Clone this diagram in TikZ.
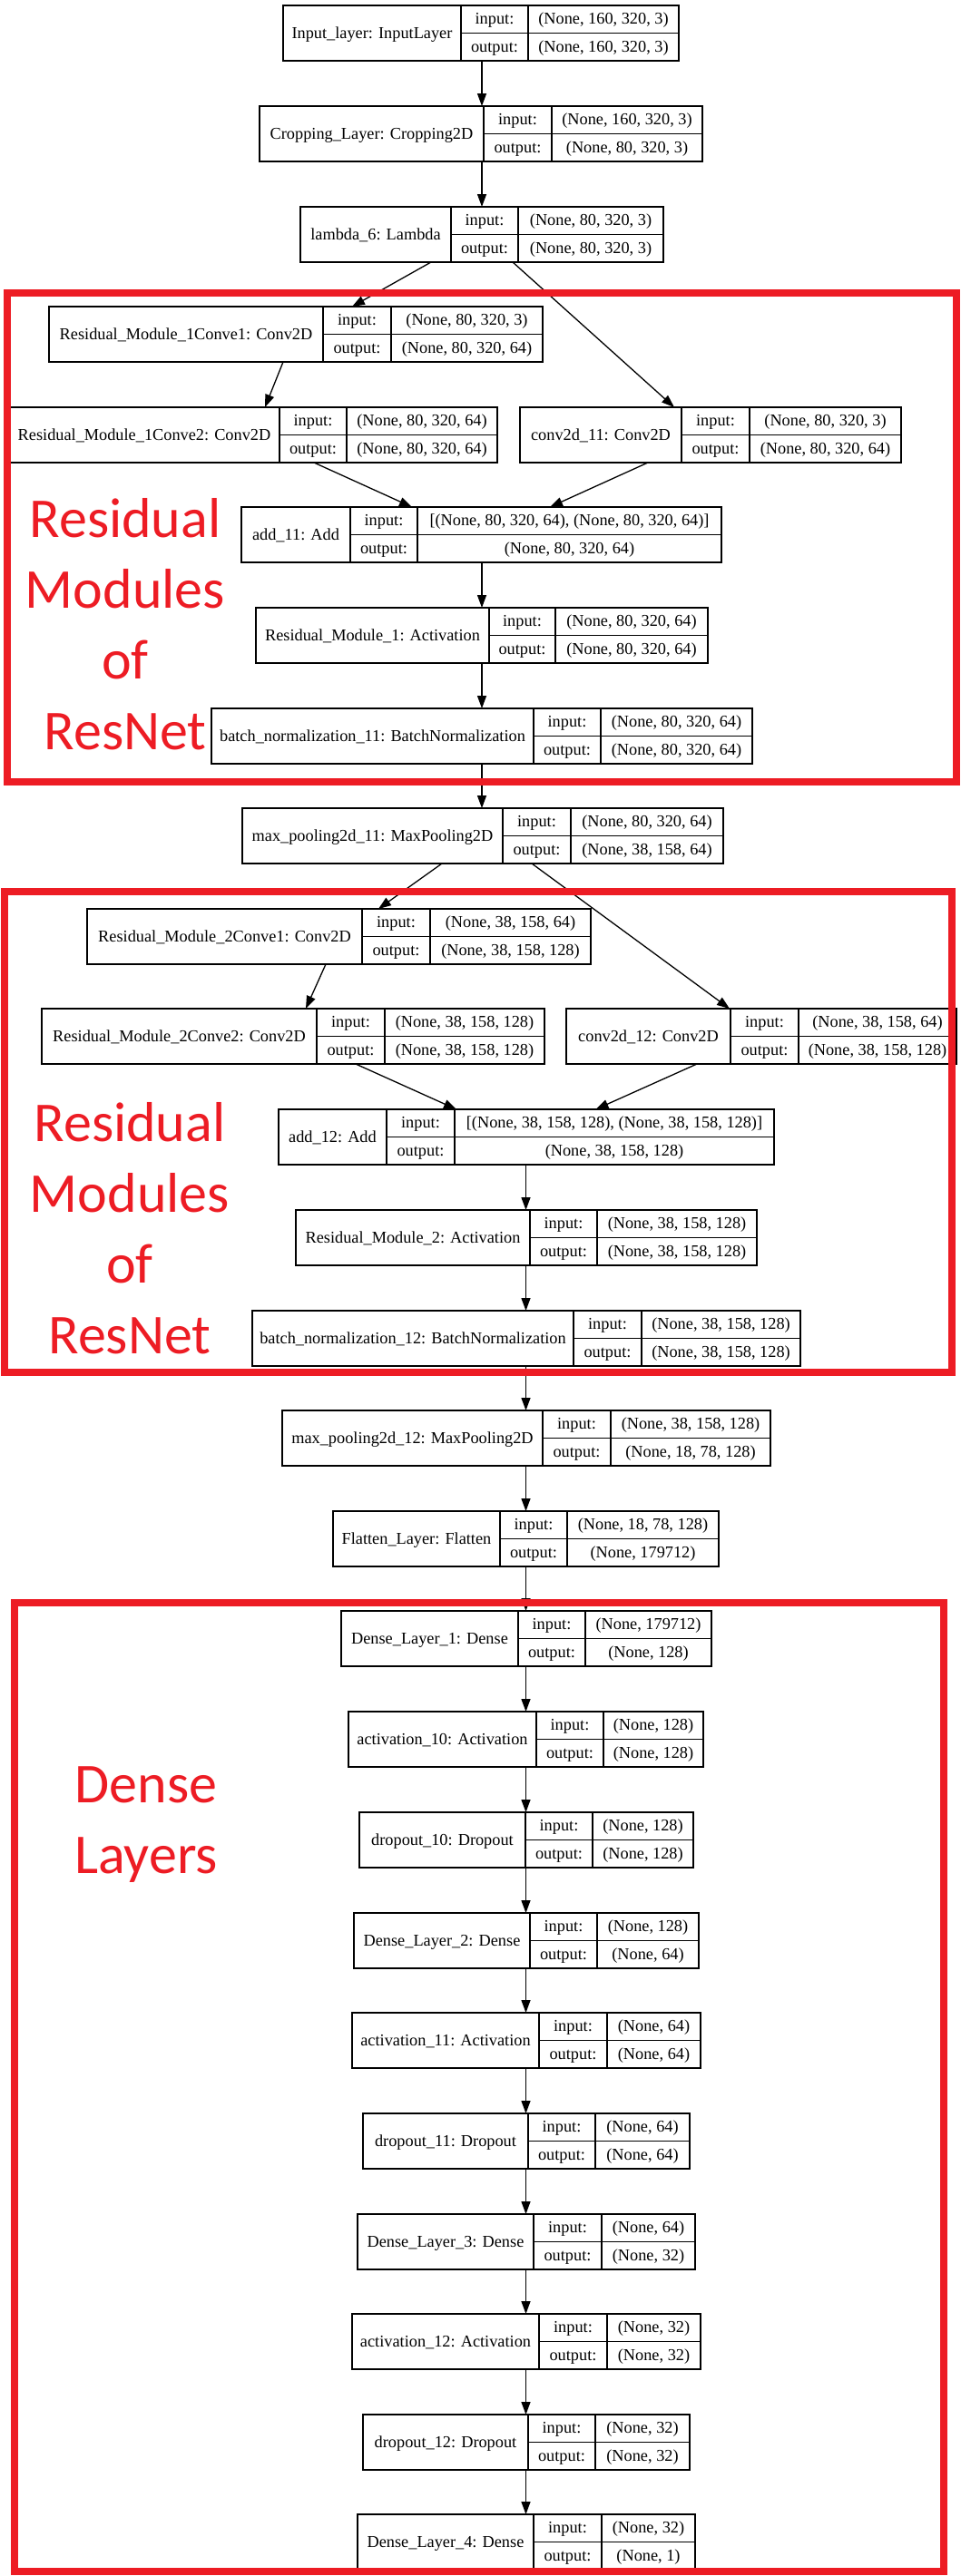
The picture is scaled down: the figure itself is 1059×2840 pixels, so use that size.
\documentclass[tikz,border=0pt]{standalone}
\usepackage{fontspec}
\setmainfont{Liberation Serif}
\newfontfamily\redfont{Carlito}
\usetikzlibrary{arrows.meta}
\definecolor{mred}{RGB}{237,28,36}
\tikzset{
  rec/.style={draw=black, line width=1.3pt, inner sep=0pt, outer sep=0pt, fill=white},
  rl/.style={draw=black, line width=1.3pt},
  txt/.style={inner sep=0pt, outer sep=0pt, text height=14pt, text depth=3pt, font=\fontsize{18.3}{20}\selectfont},
  arr/.style={draw=black, line width=1.3pt, -{Triangle[length=14pt,width=10pt]}},
  redbox/.style={draw=mred, line width=8pt},
  redtxt/.style={text=mred, inner sep=0pt, align=center, font=\redfont\fontsize{62}{78}\selectfont}
}
\newcommand\lyr[9]{%
  \node[rec, minimum width={(#5-#2)*1pt}, minimum height=61pt] (#1) at ({(#2+#5)/2},{#6+30.5}) {};
  \draw[rl] (#3,#6) -- (#3,#6+61) (#4,#6) -- (#4,#6+61) (#3,#6+30.5) -- (#5,#6+30.5);
  \node[txt] (#1-l) at ({(#2+#3)/2},{#6+30.5}) {#7};
  \node[txt] (#1-i) at ({(#3+#4)/2},{#6+15.25}) {input:};
  \node[txt] (#1-o) at ({(#3+#4)/2},{#6+45.75}) {output:};
  \node[txt] (#1-iv) at ({(#4+#5)/2},{#6+15.25}) {#8};
  \node[txt] (#1-ov) at ({(#4+#5)/2},{#6+45.75}) {#9};
}
\begin{document}
\begin{tikzpicture}[x=1pt,y=-1pt]
\useasboundingbox[fill=white] (0,0) rectangle (1059,2840);
\coordinate (axA) at (531,0);
\coordinate (axB) at (579.5,0);
% layers
\lyr{inp}{312}{508}{582}{748}{6}{Input\_layer: InputLayer}{(None, 160, 320, 3)}{(None, 160, 320, 3)}
\lyr{crop}{286}{533}{608}{774}{117}{Cropping\_Layer: Cropping2D}{(None, 160, 320, 3)}{(None, 80, 320, 3)}
\lyr{lam}{331}{497}{571}{731}{228}{lambda\_6: Lambda}{(None, 80, 320, 3)}{(None, 80, 320, 3)}
\lyr{rac}{54}{356}{431}{598}{338}{Residual\_Module\_1Conve1: Conv2D}{(None, 80, 320, 3)}{(None, 80, 320, 64)}
\lyr{rad}{10}{308}{382}{548}{449}{Residual\_Module\_1Conve2: Conv2D}{(None, 80, 320, 64)}{(None, 80, 320, 64)}
\lyr{cva}{573}{751}{826}{993}{449}{conv2d\_11: Conv2D}{(None, 80, 320, 3)}{(None, 80, 320, 64)}
\lyr{adda}{266}{386}{460}{795}{559}{add\_11: Add}{[(None, 80, 320, 64), (None, 80, 320, 64)]}{(None, 80, 320, 64)}
\lyr{acta}{282}{539}{612}{780}{670}{Residual\_Module\_1: Activation}{(None, 80, 320, 64)}{(None, 80, 320, 64)}
\lyr{bna}{233}{588}{662}{829}{781}{batch\_normalization\_11: BatchNormalization}{(None, 80, 320, 64)}{(None, 80, 320, 64)}
\lyr{mpa}{267}{554}{629}{797}{891}{max\_pooling2d\_11: MaxPooling2D}{(None, 80, 320, 64)}{(None, 38, 158, 64)}
\lyr{rbc}{96}{399}{474}{651}{1002}{Residual\_Module\_2Conve1: Conv2D}{(None, 38, 158, 64)}{(None, 38, 158, 128)}
\lyr{rbd}{46}{349}{424}{600}{1112}{Residual\_Module\_2Conve2: Conv2D}{(None, 38, 158, 128)}{(None, 38, 158, 128)}
\lyr{cvb}{624}{805}{880}{1054}{1112}{conv2d\_12: Conv2D}{(None, 38, 158, 64)}{(None, 38, 158, 128)}
\lyr{addb}{307}{426}{501}{853}{1223}{add\_12: Add}{[(None, 38, 158, 128), (None, 38, 158, 128)]}{(None, 38, 158, 128)}
\lyr{actb}{326}{584}{658}{834}{1334}{Residual\_Module\_2: Activation}{(None, 38, 158, 128)}{(None, 38, 158, 128)}
\lyr{bnb}{278}{632}{707}{882}{1445}{batch\_normalization\_12: BatchNormalization}{(None, 38, 158, 128)}{(None, 38, 158, 128)}
\lyr{mpb}{311}{598}{673}{849}{1555}{max\_pooling2d\_12: MaxPooling2D}{(None, 38, 158, 128)}{(None, 18, 78, 128)}
\lyr{flat}{367}{551}{625}{792}{1666}{Flatten\_Layer: Flatten}{(None, 18, 78, 128)}{(None, 179712)}
\lyr{da}{376}{571}{645}{784}{1776}{Dense\_Layer\_1: Dense}{(None, 179712)}{(None, 128)}
\lyr{aj}{384}{591}{665}{775}{1887}{activation\_10: Activation}{(None, 128)}{(None, 128)}
\lyr{oj}{396}{579}{653}{764}{1998}{dropout\_10: Dropout}{(None, 128)}{(None, 128)}
\lyr{db}{390}{584}{658}{770}{2109}{Dense\_Layer\_2: Dense}{(None, 128)}{(None, 64)}
\lyr{ak}{388}{594}{669}{772}{2219}{activation\_11: Activation}{(None, 64)}{(None, 64)}
\lyr{ok}{400}{582}{656}{760}{2330}{dropout\_11: Dropout}{(None, 64)}{(None, 64)}
\lyr{dc}{394}{588}{663}{766}{2441}{Dense\_Layer\_3: Dense}{(None, 64)}{(None, 32)}
\lyr{al}{388}{594}{669}{772}{2551}{activation\_12: Activation}{(None, 32)}{(None, 32)}
\lyr{ol}{400}{582}{656}{760}{2662}{dropout\_12: Dropout}{(None, 32)}{(None, 32)}
\lyr{dd}{394}{588}{663}{766}{2772}{Dense\_Layer\_4: Dense}{(None, 32)}{(None, 1)}
% vertical connectors
\draw[arr] (inp.south -| axA) -- (crop.north -| axA);
\draw[arr] (crop.south -| axA) -- (lam.north -| axA);
\draw[arr] (adda.south -| axA) -- (acta.north -| axA);
\draw[arr] (acta.south -| axA) -- (bna.north -| axA);
\draw[arr] (bna.south -| axA) -- (mpa.north -| axA);
\draw[arr] (addb.south -| axB) -- (actb.north -| axB);
\draw[arr] (actb.south -| axB) -- (bnb.north -| axB);
\draw[arr] (bnb.south -| axB) -- (mpb.north -| axB);
\draw[arr] (mpb.south -| axB) -- (flat.north -| axB);
\draw[arr] (flat.south -| axB) -- (da.north -| axB);
\draw[arr] (da.south -| axB) -- (aj.north -| axB);
\draw[arr] (aj.south -| axB) -- (oj.north -| axB);
\draw[arr] (oj.south -| axB) -- (db.north -| axB);
\draw[arr] (db.south -| axB) -- (ak.north -| axB);
\draw[arr] (ak.south -| axB) -- (ok.north -| axB);
\draw[arr] (ok.south -| axB) -- (dc.north -| axB);
\draw[arr] (dc.south -| axB) -- (al.north -| axB);
\draw[arr] (al.south -| axB) -- (ol.north -| axB);
\draw[arr] (ol.south -| axB) -- (dd.north -| axB);
% diagonal connectors
\draw[arr] ([xshift=-56pt]lam.south) -- ([xshift=62pt]rac.north);
\draw[arr] ([xshift=34pt]lam.south) -- ([xshift=-40pt]cva.north);
\draw[arr] ([xshift=-14pt]rac.south) -- ([xshift=13pt]rad.north);
\draw[arr] ([xshift=67pt]rad.south) -- ([xshift=-76.5pt]adda.north);
\draw[arr] ([xshift=-69pt]cva.south) -- ([xshift=75.5pt]adda.north);
\draw[arr] ([xshift=-45pt]mpa.south) -- ([xshift=43.5pt]rbc.north);
\draw[arr] ([xshift=54pt]mpa.south) -- ([xshift=-35pt]cvb.north);
\draw[arr] ([xshift=-14.5pt]rbc.south) -- ([xshift=14pt]rbd.north);
\draw[arr] ([xshift=69pt]rbd.south) -- ([xshift=-77pt]addb.north);
\draw[arr] ([xshift=-71pt]cvb.south) -- ([xshift=76.5pt]addb.north);
% red frames
\draw[redbox] (8,323) rectangle (1054,862);
\draw[redbox] (5,983) rectangle (1049,1513);
\draw[redbox] (16,1767) rectangle (1040,2835);
\node[redtxt, anchor=north] (lblA) at (138,549) {Residual\\Modules\\of\\ResNet};
\node[redtxt, anchor=north] (lblB) at (143,1215) {Residual\\Modules\\of\\ResNet};
\node[redtxt, anchor=north] (lblC) at (161,1947) {Dense\\Layers};
\end{tikzpicture}
\end{document}
